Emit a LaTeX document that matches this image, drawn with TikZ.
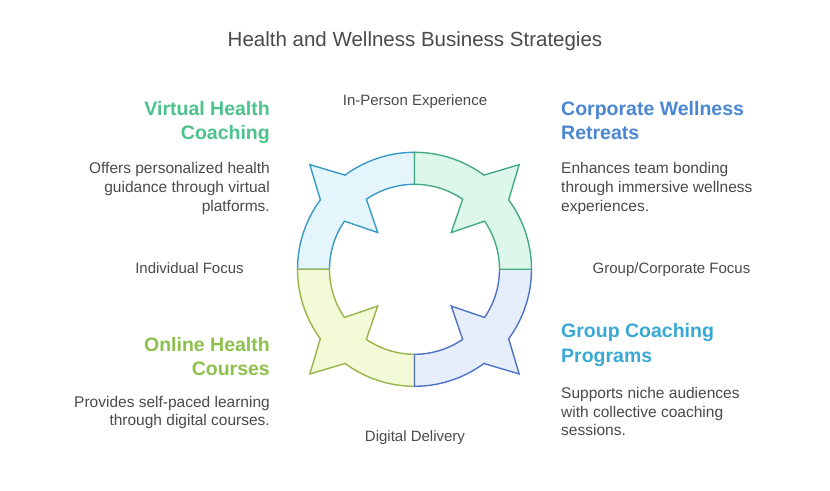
\documentclass[tikz,border=0pt]{standalone}
\usepackage{fontspec}
\setmainfont{Liberation Sans}
\usepackage{xcolor}
\usetikzlibrary{positioning}

\definecolor{txtgray}{HTML}{4A4A4A}
\definecolor{vhcgreen}{HTML}{4CC28C}
\definecolor{cwrblue}{HTML}{4A86D2}
\definecolor{ohcolive}{HTML}{8EC04C}
\definecolor{gcpcyan}{HTML}{3AA8D4}
\definecolor{tlfill}{HTML}{E4F5FC}
\definecolor{tldraw}{HTML}{3A9AC6}
\definecolor{trfill}{HTML}{DDF8EA}
\definecolor{trdraw}{HTML}{45AA84}
\definecolor{blfill}{HTML}{F2FAD8}
\definecolor{bldraw}{HTML}{98B54A}
\definecolor{brfill}{HTML}{E6EEFB}
\definecolor{brdraw}{HTML}{4E72C4}

\tikzset{
  headline/.style={inner sep=0pt, font=\fontsize{19.5}{24.7}\selectfont\bfseries},
  desc/.style={inner sep=0pt, text=txtgray, font=\fontsize{15.5}{18.7}\selectfont},
  axislabel/.style={inner sep=0pt, text=txtgray, font=\fontsize{15}{18}\selectfont},
}

\begin{document}
\begin{tikzpicture}[x=1pt, y=1pt]
    \useasboundingbox[fill=white] (0,0) rectangle (830,490);

    % ring of four arrows
    \begin{scope}[shift={(414.5,220.7)}, line width=1.4pt, line join=miter]
    \foreach \a/\f/\s in {90/tlfill/tldraw, 180/blfill/bldraw, 270/brfill/brdraw, 0/trfill/trdraw}{
        \draw[draw=\s, fill=\f] (\a:117) arc[start angle=\a, end angle=\a+36.4, radius=117]
            -- (\a+45:148) -- (\a+53.6:117) arc[start angle=\a+53.6, end angle=\a+90, radius=117]
            -- (\a+90:85) arc[start angle=\a+90, end angle=\a+55.5, radius=85]
            -- (\a+45:52) -- (\a+34.5:85) arc[start angle=\a+34.5, end angle=\a, radius=85] -- cycle;
    }
    \end{scope}

    \node[axislabel, font=\fontsize{20.5}{22}\selectfont, anchor=base] (title) at (415,443.3) {Health and Wellness Business Strategies};

    \node[axislabel, anchor=base] (inperson) at (415,384) {In-Person Experience};
    \node[axislabel, anchor=base] (individual) at (189.5,216) {Individual Focus};
    \node[axislabel, anchor=base] (groupfocus) at (671.5,216) {Group/Corporate Focus};
    \node[axislabel, anchor=base] (digital) at (415,48) {Digital Delivery};

    % base anchors sit on the last line of each block
    \node[headline, text=vhcgreen, align=right, anchor=base east] (vhcHead) at (270,350) {Virtual Health\\Coaching};
    \node[desc, align=right, anchor=base east] (vhcText) at (270,278.6) {Offers personalized health\\guidance through virtual\\platforms.};

    \node[headline, text=cwrblue, align=left, anchor=base west] (cwrHead) at (561,350) {Corporate Wellness\\Retreats};
    \node[desc, align=left, anchor=base west] (cwrText) at (561,278.6) {Enhances team bonding\\through immersive wellness\\experiences.};

    \node[headline, text=ohcolive, align=right, anchor=base east] (ohcHead) at (270,114) {Online Health\\Courses};
    \node[desc, align=right, anchor=base east] (ohcText) at (270,64) {Provides self-paced learning\\through digital courses.};

    \node[headline, text=gcpcyan, align=left, anchor=base west] (gcpHead) at (561,127.3) {Group Coaching\\Programs};
    \node[desc, align=left, anchor=base west] (gcpText) at (561,54) {Supports niche audiences\\with collective coaching\\sessions.};
\end{tikzpicture}
\end{document}
